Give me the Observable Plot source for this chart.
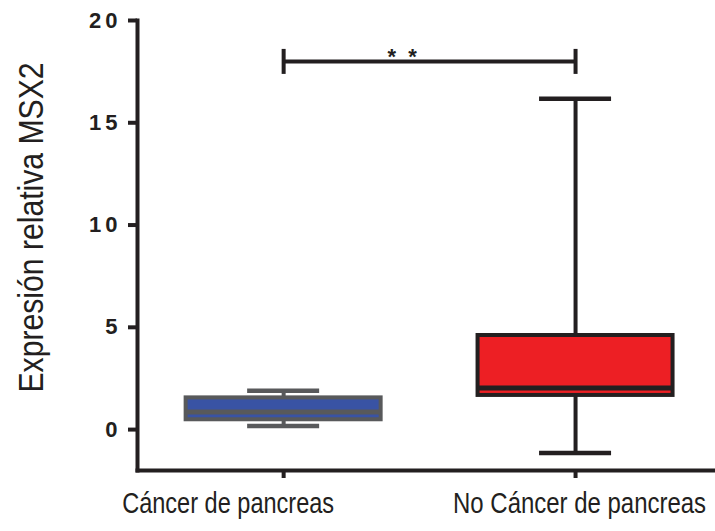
<!DOCTYPE html>
<html><head><meta charset="utf-8">
<script src="https://cdn.jsdelivr.net/npm/d3@7"></script>
<script src="https://cdn.jsdelivr.net/npm/@observablehq/plot@0.6"></script>
<style>
body{margin:0;background:#fff}
#chart svg{display:block}
g[aria-label="y-axis tick label"] text{letter-spacing:4px}
</style></head><body><div id="chart"></div>
<script>
const categories = ["Cáncer de pancreas", "No Cáncer de pancreas"];
const whiskerLow = [0.17, -1.14];
const q1 = [0.48, 1.67];
const median = [0.86, 2.03];
const q3 = [1.55, 4.6];
const whiskerHigh = [1.9, 16.18];
const yTicks = [0, 5, 10, 15, 20];
const yLabel = "Expresión relativa MSX2";
const sigY = 18;
const sigLabel = "* *";
const boxFills = ["#3953a4", "#ed1f24"];
const boxStrokes = ["#58595b", "#231f20"];

const boxes = categories.map((c, i) => ({cat: c, lo: whiskerLow[i], q1: q1[i], med: median[i], q3: q3[i], hi: whiskerHigh[i], fill: boxFills[i], stroke: boxStrokes[i]}));
const sig = [{x1: categories[0], x2: categories[1], y: sigY}];
const ink = "#231f20";
const font = "'Liberation Sans', Arial, Helvetica, sans-serif";

const chart = Plot.plot({
  width: 715, height: 531, marginTop: 20, marginBottom: 61, marginLeft: 137, marginRight: 0,
  style: {fontFamily: font, background: "#fff", color: ink},
  x: {type: "band", domain: categories, paddingInner: 0.332, paddingOuter: 0.156, align: 0.534, round: false, axis: null},
  y: {domain: [-2, 20], axis: null},
  color: {type: "identity"},
  marks: [
    Plot.frame({anchor: "left", stroke: ink, strokeWidth: 4}),
    Plot.frame({anchor: "bottom", stroke: ink, strokeWidth: 4}),
    Plot.axisY(yTicks, {anchor: "left", tickSize: 9, tickPadding: 7, strokeWidth: 4, color: ink, fontSize: 22, fontWeight: "bold", fontFamily: font, label: null}),
    Plot.axisX({anchor: "bottom", tickSize: 8, strokeWidth: 4, color: ink, tickFormat: () => "", label: null}),
    Plot.text([yLabel], {text: d => d, frameAnchor: "left", textAnchor: "middle", rotate: -90, dx: -106, dy: -18, fontSize: 35, fontFamily: font, fill: ink}),
    Plot.text([categories[0]], {x: d => d, text: d => d, frameAnchor: "bottom", textAnchor: "middle", dy: 42.7, dx: -55.5, fontSize: 29, fontFamily: font, fill: ink}),
    Plot.text([categories[1]], {x: d => d, text: d => d, frameAnchor: "bottom", textAnchor: "middle", dy: 42.7, dx: 4, fontSize: 29, fontFamily: font, fill: ink}),
    Plot.ruleX(boxes, {x: "cat", y1: "lo", y2: "hi", stroke: "stroke", strokeWidth: 4}),
    Plot.tickY(boxes, {x: "cat", y: "lo", stroke: "stroke", strokeWidth: 4.5, insetLeft: 61.5, insetRight: 61.5}),
    Plot.tickY(boxes, {x: "cat", y: "hi", stroke: "stroke", strokeWidth: 4.5, insetLeft: 61.5, insetRight: 61.5}),
    Plot.barY(boxes, {x: "cat", y1: "q1", y2: "q3", fill: "fill", stroke: "stroke", strokeWidth: 4}),
    Plot.tickY(boxes, {x: "cat", y: "med", stroke: "stroke", strokeWidth: 5}),
    Plot.link(sig, {x1: "x1", x2: "x2", y1: "y", y2: "y", stroke: ink, strokeWidth: 4}),
    Plot.ruleX(categories, {x: d => d, y1: sigY, y2: sigY, insetTop: -12, insetBottom: -13, stroke: ink, strokeWidth: 4}),
    Plot.text(sig, {x: "x1", y: "y", text: () => sigLabel, dx: 120, dy: -4, fontSize: 22, fontWeight: "bold", fontFamily: font, fill: ink})
  ]
});
// condense the regular-weight labels to match the narrow typeface of the original
const condense = (str, len) => {
  for (const t of chart.querySelectorAll("text")) {
    if (t.textContent === str) { t.setAttribute("textLength", len); t.setAttribute("lengthAdjust", "spacingAndGlyphs"); }
  }
};
condense(yLabel, 330);
condense(categories[0], 212);
condense(categories[1], 253);
for (const t of chart.querySelectorAll("text")) if (t.textContent === sigLabel) t.style.letterSpacing = "3px";
document.getElementById("chart").appendChild(chart);
</script></body></html>
